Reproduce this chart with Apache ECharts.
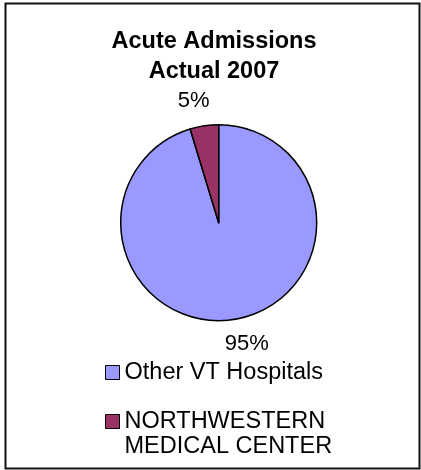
<!DOCTYPE html>
<html>
<head>
<meta charset="utf-8">
<script src="https://cdn.jsdelivr.net/npm/echarts@6/dist/echarts.min.js"></script>
<style>
  html, body { margin: 0; padding: 0; background: #fff; }
  #pie { width: 421px; height: 470px; }
</style>
</head>
<body>
<div id="pie"></div>
<script>
// 数据
var titleLines = ['Acute Admissions', 'Actual 2007'];
var names = ['Other VT Hospitals', 'NORTHWESTERN MEDICAL CENTER'];
var values = [95.3, 4.7];
var colors = ['#9999ff', '#993366'];

var font = '"Liberation Sans", Arial, sans-serif';

var myChart = echarts.init(document.getElementById('pie'));

var seriesData = names.map(function (n, i) {
    return { name: n, value: values[i], itemStyle: { color: colors[i] } };
});

var legendText = { fontFamily: font, fontSize: 23.5, lineHeight: 25, color: '#000' };

var option = {
    backgroundColor: '#fff',
    animation: false,
    title: {
        text: titleLines.join('\n'),
        left: 214,
        textAlign: 'center',
        top: 27,
        padding: 0,
        textStyle: {
            fontFamily: font,
            fontSize: 23.5,
            fontWeight: 'bold',
            lineHeight: 30,
            color: '#000'
        }
    },
    graphic: [{
        type: 'rect',
        shape: { x: 5.5, y: 3.5, width: 414, height: 465 },
        style: { fill: 'none', stroke: '#111', lineWidth: 2 },
        silent: true
    }],
    legend: [
        {
            data: [names[0]],
            orient: 'vertical',
            left: 105,
            top: 360,
            padding: 0,
            itemWidth: 14,
            itemHeight: 14,
            icon: 'rect',
            itemStyle: { borderColor: '#000', borderWidth: 1 },
            textStyle: legendText
        },
        {
            data: [names[1]],
            orient: 'vertical',
            left: 105,
            top: 384,
            padding: 0,
            itemWidth: 14,
            itemHeight: 14,
            icon: 'rect',
            itemStyle: { borderColor: '#000', borderWidth: 1 },
            // 空行放在上面，让图标对齐第一行
            formatter: function (name) {
                return ' \n' + name.replace('NORTHWESTERN ', 'NORTHWESTERN\n');
            },
            textStyle: legendText
        }
    ],
    series: [{
        type: 'pie',
        center: [218.7, 222.7],
        radius: 98,
        startAngle: 90,
        clockwise: true,
        data: seriesData,
        itemStyle: { borderColor: '#000', borderWidth: 1.5 },
        label: {
            show: true,
            position: 'outside',
            fontFamily: font,
            fontSize: 22,
            color: '#000',
            formatter: function (p) { return Math.round(p.percent) + '%'; }
        },
        labelLine: { show: false, length: 25, length2: 0 },
        labelLayout: function (p) {
            return { align: 'center', verticalAlign: 'middle', dx: p.dataIndex === 0 ? 5 : -2 };
        },
        emphasis: { disabled: true }
    }]
};

myChart.setOption(option);

window.addEventListener('resize', function () {
    myChart.resize();
});
</script>
</body>
</html>
